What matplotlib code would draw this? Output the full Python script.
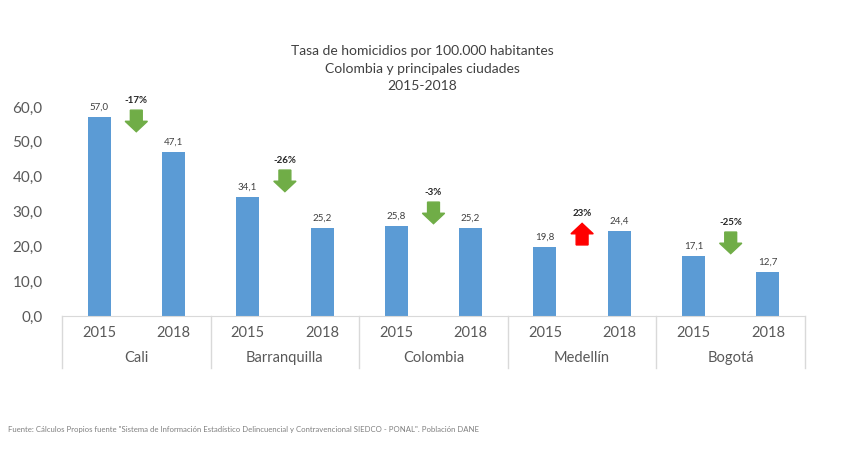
import matplotlib
matplotlib.use("Agg")
import matplotlib.pyplot as plt
from matplotlib.patches import FancyArrow
from matplotlib.lines import Line2D

plt.rcParams['font.family'] = ['Lato', 'DejaVu Sans']

cities = ["Cali", "Barranquilla", "Colombia", "Medellín", "Bogotá"]
years = ["2015", "2018"]
values_2015 = [57.0, 34.1, 25.8, 19.8, 17.1]
values_2018 = [47.1, 25.2, 25.2, 24.4, 12.7]
changes = ["-17%", "-26%", "-3%", "23%", "-25%"]
yticks = [0, 10, 20, 30, 40, 50, 60]

# layout (arrow vertical placement, in data units)
arrow_top = [59.1, 41.9, 32.7, 20.4, 24.1]
arrow_len = 6.2

fig = plt.figure(figsize=(8.68, 4.61), dpi=100)
ax = fig.add_axes([62/868, 1-316/461, (805-62)/868, (316-107)/461])

bar_color = "#5b9bd5"
xs, vals = [], []
for i in range(len(cities)):
    xs += [2*i, 2*i+1]
    vals += [values_2015[i], values_2018[i]]
ax.bar(xs, vals, width=0.31, color=bar_color, zorder=2)
for x, v in zip(xs, vals):
    ax.text(x, v + 1.6, f"{v:.1f}".replace(".", ","), ha="center", va="bottom",
            fontsize=7, color="#404040")

ax.set_xlim(-0.5, 2*len(cities) - 0.5)
ax.set_ylim(0, 60)
ax.set_yticks(yticks)
ax.set_yticklabels([f"{t:.1f}".replace(".", ",") for t in yticks], fontsize=11, color="#595959")
ax.tick_params(axis="y", length=0, pad=14)
ax.set_xticks([])
for s in ["top", "right", "left"]:
    ax.spines[s].set_visible(False)
ax.spines["bottom"].set_color("#d9d9d9")

# arrows
for i, ch in enumerate(changes):
    x = 2*i + 0.5
    up = not ch.startswith("-")
    color = "#ff0000" if up else "#70ad47"
    if up:
        y0, dy = arrow_top[i], arrow_len
        top = y0 + dy
    else:
        y0, dy = arrow_top[i], -arrow_len
        top = y0
    arr = FancyArrow(x, y0, 0, dy, width=0.16, head_width=0.30, head_length=3.0,
                     length_includes_head=True, color=color, clip_on=False, zorder=3)
    ax.add_patch(arr)
    ax.text(x, top + 1.4, ch, ha="center", va="bottom", fontsize=7,
            fontweight="bold", color="#262626", clip_on=False)

# category axis (multi-level)
trans = ax.get_xaxis_transform()
sep_bottom = -(368-316)/(316-107)
for g in range(len(cities) + 1):
    xb = 2*g - 0.5
    ax.add_line(Line2D([xb, xb], [0, sep_bottom], transform=trans, color="#d9d9d9",
                       lw=1, clip_on=False))
for i, c in enumerate(cities):
    for j, yr in enumerate(years):
        ax.text(2*i + j, -(333-316)/(316-107), yr, transform=trans, ha="center",
                va="center", fontsize=10.5, color="#595959")
    ax.text(2*i + 0.5, -(358-316)/(316-107), c, transform=trans, ha="center",
            va="center", fontsize=10.5, color="#595959")

for txt, yy in [("Tasa de homicidios por 100.000 habitantes", 51),
                ("Colombia y principales ciudades", 69),
                ("2015-2018", 86)]:
    fig.text(422/868, 1-yy/461, txt, ha="center", va="center", fontsize=10,
             color="#404040")
fig.text(8/868, 1-429/461,
         "Fuente: Cálculos Propios fuente \"Sistema de Información Estadístico Delincuencial y Contravencional SIEDCO - PONAL\". Población DANE",
         ha="left", va="center", fontsize=5.6, color="#7f7f7f")

fig.savefig("out.png", dpi=100)
